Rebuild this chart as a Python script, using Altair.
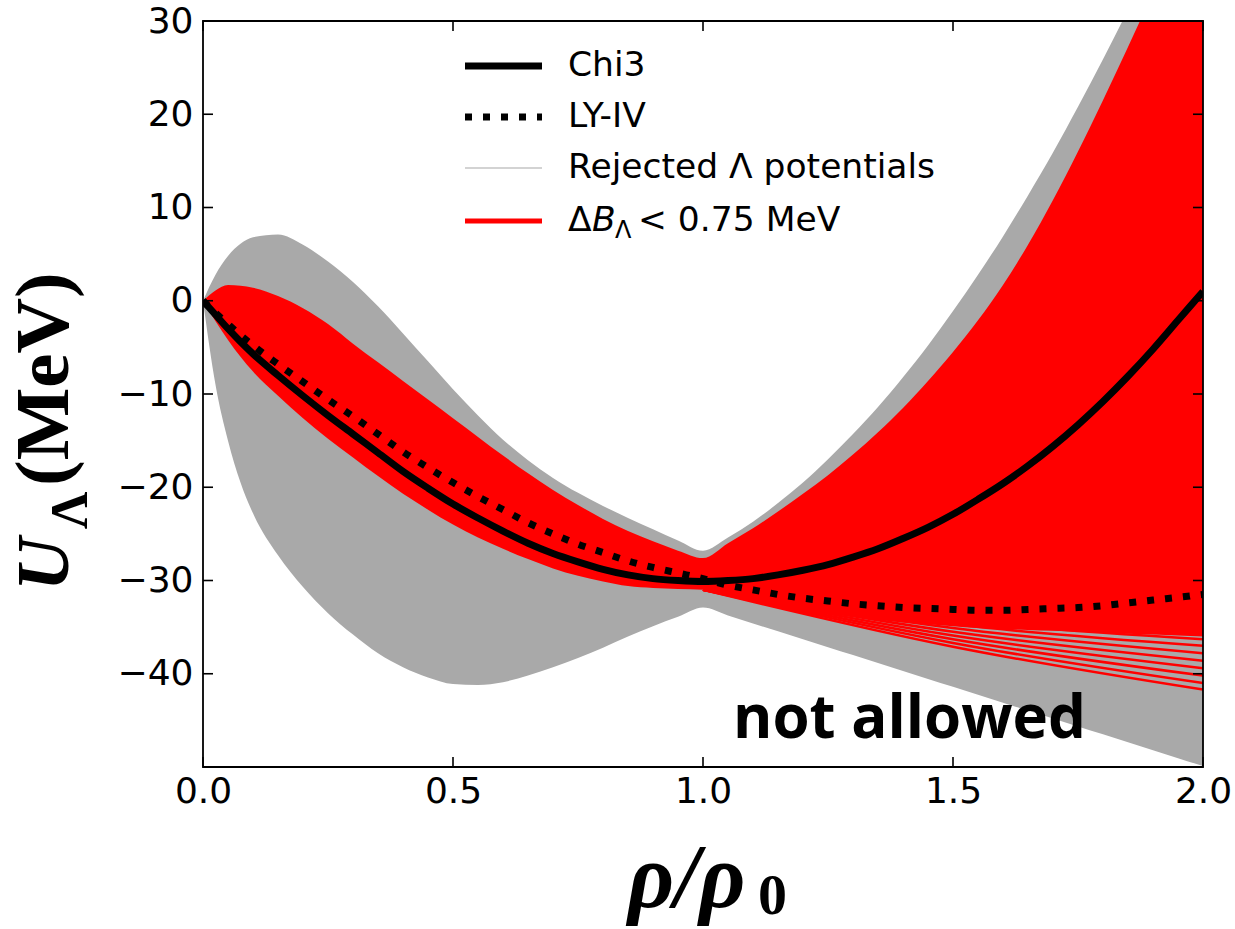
import altair as alt
import pandas as pd

# ---------------- data ----------------
X_GRID = [0, 0.025, 0.05, 0.075, 0.1, 0.15, 0.2, 0.25, 0.3, 0.35, 0.4, 0.45, 0.5,
          0.55, 0.6, 0.65, 0.7, 0.75, 0.8, 0.85, 0.9, 0.95, 1.0,
          1.05, 1.1, 1.15, 1.2, 1.25, 1.3, 1.35, 1.4, 1.45, 1.5,
          1.55, 1.6, 1.65, 1.7, 1.75, 1.8, 1.85, 1.9, 1.95, 2.0]

# envelope of the rejected (grey) potentials
GRAY_UPPER = [0, 2.8, 4.8, 6.1, 6.8, 7.1, 6.0, 4.2, 2.0, -0.6, -3.5, -6.5, -9.5,
              -12.3, -14.9, -17.1, -19.0, -20.6, -22.0, -23.3, -24.5, -25.7, -26.8,
              -25.4, -23.7, -21.7, -19.5, -17.0, -14.3, -11.4, -8.2, -4.8, -1.1,
              2.8, 6.9, 11.3, 15.9, 20.8, 25.9, 31.2, 36.8, 42.6, 48.7]
GRAY_LOWER = [0, -9.0, -15.0, -19.5, -22.8, -27.3, -30.7, -33.5, -35.8, -37.8, -39.3, -40.4, -41.1,
              -41.2, -40.9, -40.2, -39.3, -38.3, -37.2, -36.0, -34.9, -33.9, -32.9,
              -33.75, -34.6, -35.45, -36.3, -37.15, -38.0, -38.85, -39.7, -40.55, -41.4,
              -42.25, -43.1, -43.95, -44.8, -45.65, -46.5, -47.35, -48.2, -49.05, -49.9]

# envelope of the accepted (red) potentials
RED_UPPER = [0, 1.1, 1.7, 1.6, 1.4, 0.5, -0.8, -2.5, -4.6, -6.6, -8.6, -10.6, -12.6,
             -14.6, -16.6, -18.5, -20.3, -21.9, -23.4, -24.7, -25.8, -26.8, -27.6,
             -26.0, -24.4, -22.6, -20.7, -18.7, -16.5, -14.1, -11.5, -8.6, -5.5,
             -2.1, 1.7, 6.0, 10.8, 16.0, 21.5, 27.2, 33.1, 39.2, 45.5]
RED_LOWER = [0, -2.2, -4.2, -6.0, -7.6, -10.2, -12.6, -14.8, -16.8, -18.8, -20.7, -22.4, -24.0,
             -25.4, -26.6, -27.7, -28.7, -29.5, -30.1, -30.6, -30.8, -30.9, -31.0,
             -31.6, -32.2, -32.7, -33.2, -33.6, -33.9, -34.2, -34.5, -34.7, -34.9,
             -35.1, -35.2, -35.3, -35.4, -35.5, -35.6, -35.7, -35.8, -35.9, -36.0]

# lower red potentials fanning out beyond rho0 (values at rho0, 1.5 rho0, 2 rho0)
FAN_X = [1.0, 1.5, 2.0]
FAN_START = -31.0
FAN_MID = [-34.3, -34.7, -35.1, -35.5, -35.9, -36.3, -36.7, -37.1]
FAN_END = [-36.3, -37.0, -37.8, -38.6, -39.4, -40.2, -41.0, -41.7]

CHI3 = [0, -1.5, -3.0, -4.4, -5.7, -8.0, -10.2, -12.3, -14.3, -16.3, -18.3, -20.1, -21.8,
        -23.3, -24.7, -26.0, -27.1, -28.0, -28.8, -29.4, -29.8, -30.0, -30.1,
        -30.0, -29.8, -29.4, -28.9, -28.3, -27.5, -26.6, -25.5, -24.3, -22.9,
        -21.3, -19.6, -17.7, -15.6, -13.3, -10.8, -8.1, -5.2, -2.1, 1.0]
LY_IV = [0, -1.3, -2.5, -3.7, -4.8, -6.8, -8.7, -10.6, -12.4, -14.3, -16.2, -17.9, -19.5,
         -21.0, -22.4, -23.8, -25.0, -26.1, -27.0, -27.9, -28.6, -29.2, -29.8,
         -30.5, -31.0, -31.5, -31.9, -32.2, -32.5, -32.7, -32.9, -33.0, -33.1,
         -33.2, -33.2, -33.1, -33.0, -32.9, -32.7, -32.4, -32.1, -31.8, -31.5]

X_TICKS = [0.0, 0.5, 1.0, 1.5, 2.0]
Y_TICKS = [-40, -30, -20, -10, 0, 10, 20, 30]
X_DOMAIN = [0, 2]
Y_DOMAIN = [-50, 30]

LEGEND_LABELS = ["Chi3", "LY-IV", "Rejected Λ potentials"]

# ---------------- layout constants ----------------
W, H = 1000, 746
GRAY = "#a9a9a9"
RED = "#ff0000"
TICK_FONT = "DejaVu Sans"
FS = 36
LFS = 34.5

curves = pd.DataFrame({
    "x": X_GRID, "gu": GRAY_UPPER, "gl": GRAY_LOWER,
    "ru": RED_UPPER, "rl": RED_LOWER, "chi3": CHI3, "ly": LY_IV,
})

fan_rows = []
for i, (mid, end) in enumerate(zip(FAN_MID, FAN_END)):
    for xv, yv in zip(FAN_X, [FAN_START, mid, end]):
        fan_rows.append({"id": i, "x": xv, "y": yv})
fan = pd.DataFrame(fan_rows)

xaxis = alt.Axis(values=X_TICKS, format=".1f", grid=False, ticks=False, tickSize=0,
                 domain=False, labelFont=TICK_FONT, labelFontSize=FS, labelColor="black",
                 labelPadding=7, title=None, labelFlush=False)
yaxis = alt.Axis(values=Y_TICKS, format="d", grid=False, ticks=False, tickSize=0,
                 domain=False, labelFont=TICK_FONT, labelFontSize=FS, labelColor="black",
                 labelPadding=10, title=None, labelFlush=False)
xs = alt.Scale(domain=X_DOMAIN, nice=False, zero=False)
ys = alt.Scale(domain=Y_DOMAIN, nice=False, zero=False)


def X(field):
    return alt.X(f"{field}:Q", scale=xs, axis=xaxis)


def Y(field):
    return alt.Y(f"{field}:Q", scale=ys, axis=yaxis)


base = alt.Chart(curves)

gray_band = base.mark_area(color=GRAY, interpolate="monotone", clip=True).encode(
    x=X("x"), y=Y("gl"), y2="gu")
red_band = base.mark_area(color=RED, interpolate="monotone", clip=True).encode(
    x=X("x"), y=Y("rl"), y2="ru")
fan_lines = alt.Chart(fan).mark_line(color=RED, strokeWidth=2.5, interpolate="monotone",
                                     clip=True).encode(
    x=X("x"), y=Y("y"), detail="id:N")
chi3_line = base.mark_line(color="black", strokeWidth=7, interpolate="monotone", clip=True).encode(
    x=X("x"), y=Y("chi3"))
ly_line = base.mark_line(color="black", strokeWidth=7, strokeDash=[7, 11], strokeCap="butt",
                         interpolate="monotone", clip=True).encode(
    x=X("x"), y=Y("ly"))

# inside ticks on all four sides
xt = alt.Chart(pd.DataFrame({"v": X_TICKS}))
yt = alt.Chart(pd.DataFrame({"v": Y_TICKS}))
tick_style = dict(color="black", strokeWidth=1.6)
ticks = [
    yt.mark_rule(**tick_style).encode(y=Y("v"), x=alt.value(0), x2=alt.value(10)),
    yt.mark_rule(**tick_style).encode(y=Y("v"), x=alt.value(W - 10), x2=alt.value(W)),
    xt.mark_rule(**tick_style).encode(x=X("v"), y=alt.value(H - 10), y2=alt.value(H)),
    xt.mark_rule(**tick_style).encode(x=X("v"), y=alt.value(0), y2=alt.value(10)),
]

one = pd.DataFrame({"t": [""]})
frame = alt.Chart(one).mark_rect(fill=None, stroke="black", strokeWidth=1.8).encode(
    x=alt.value(0), x2=alt.value(W), y=alt.value(0), y2=alt.value(H))


def label(txt, x, y, **kw):
    return alt.Chart(pd.DataFrame({"t": [txt]})).mark_text(**kw).encode(
        x=alt.value(x), y=alt.value(y), text="t:N")


def seg(x1, x2, y, **kw):
    return alt.Chart(one).mark_rule(**kw).encode(
        x=alt.value(x1), x2=alt.value(x2), y=alt.value(y))


# legend
LX1, LX2, TX = 262, 339, 365
ROWS = [45, 96, 147, 200]
legend = [
    seg(LX1, LX2, ROWS[0], color="black", strokeWidth=7),
    seg(LX1, LX2, ROWS[1], color="black", strokeWidth=7, strokeDash=[7, 11], strokeCap="butt"),
    seg(LX1, LX2, ROWS[2], color="#c4c4c4", strokeWidth=1.5),
    seg(LX1, LX2, ROWS[3], color=RED, strokeWidth=5),
]
lt = dict(font=TICK_FONT, fontSize=LFS, align="left", baseline="middle", color="black")
legend += [
    label(LEGEND_LABELS[0], TX, ROWS[0], **lt),
    label(LEGEND_LABELS[1], TX, ROWS[1], **lt),
    label(LEGEND_LABELS[2], TX, ROWS[2], **lt),
    label("Δ", TX, ROWS[3], **lt),
    label("B", TX + 24, ROWS[3], fontStyle="italic", **lt),
    label("Λ", TX + 47, ROWS[3] + 10, font=TICK_FONT, fontSize=24, align="left",
          baseline="middle", color="black"),
    label("< 0.75 MeV", TX + 70, ROWS[3], **lt),
]

# annotation
note = label("not allowed", 530, 717, font="Open Sans", fontSize=60, fontWeight="bold",
             align="left", baseline="alphabetic", color="black")

# axis titles (composite, serif bold)
serif = "Liberation Serif"
ytitle = [
    label("U", -135, 570, font=serif, fontSize=74, fontWeight="bold", fontStyle="italic",
          angle=270, align="left", baseline="alphabetic", color="black"),
    label("Λ", -116, 508, font=serif, fontSize=52, fontWeight="bold",
          angle=270, align="left", baseline="alphabetic", color="black"),
    label("(MeV)", -135, 465, font=serif, fontSize=77, fontWeight="bold",
          angle=270, align="left", baseline="alphabetic", color="black"),
]
xtitle = [
    label("ρ/ρ", 425, 886, font=serif, fontSize=90, fontWeight="bold", fontStyle="italic",
          align="left", baseline="alphabetic", color="black"),
    label("0", 555, 893, font=serif, fontSize=58, fontWeight="bold",
          align="left", baseline="alphabetic", color="black"),
]

chart = alt.layer(
    gray_band, red_band, fan_lines, chi3_line, ly_line,
    *ticks, frame, *legend, note, *ytitle, *xtitle,
).properties(
    width=W, height=H,
    autosize=alt.AutoSizeParams(type="none"),
    padding={"left": 203, "top": 21, "right": 32, "bottom": 162},
    background="white",
).configure_view(stroke=None)

chart.save("out.html", embed_options={"renderer": "svg", "actions": False})
